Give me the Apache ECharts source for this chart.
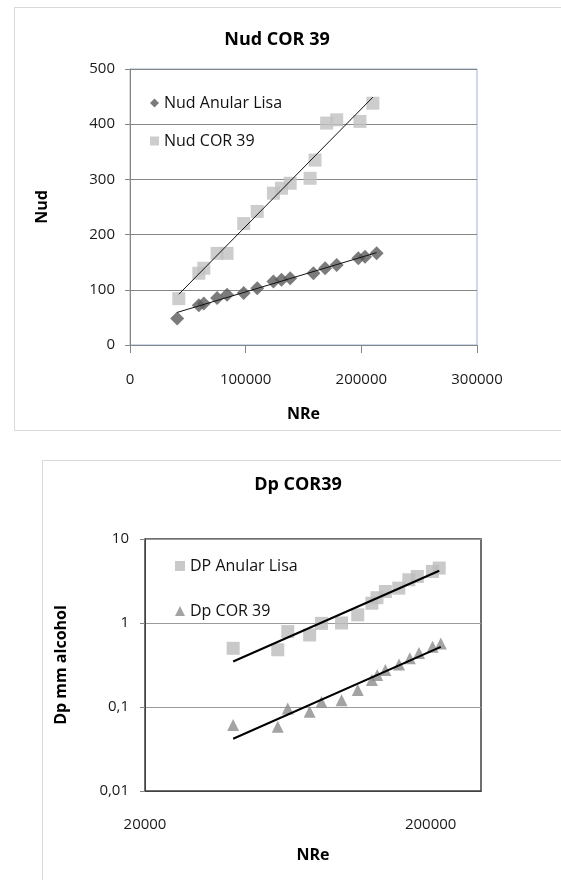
<!doctype html>
<html>
<head>
<meta charset="utf-8">
<style>
html, body { margin: 0; padding: 0; background: #fff; }
#main { width: 561px; height: 880px; }
</style>
</head>
<body>
<div id="main"></div>
<script src="https://cdn.jsdelivr.net/npm/echarts@6/dist/echarts.min.js"></script>
<script>
// top chart: Nud vs NRe
var nudLisaRe = [40800, 59500, 63800, 75300, 83900, 98300, 110000, 124000, 131000, 138500, 158600, 168700, 178700, 197400, 203200, 213200];
var nudLisa = [48, 72, 75, 85, 91, 94, 103, 115, 118, 121, 130, 139, 145, 157, 160, 166];
var nudCorRe = [42200, 59500, 63800, 75300, 83900, 98300, 110000, 124000, 131000, 138500, 155700, 160000, 170000, 178700, 198800, 210000];
var nudCor = [84, 130, 139, 166, 166, 220, 242, 275, 284, 293, 302, 335, 402, 408, 405, 438];

// bottom chart: Dp vs NRe (log-log)
var dpLisaRe = [40700, 58300, 63200, 75400, 82900, 97500, 111100, 124500, 129700, 138800, 154600, 167700, 179600, 202800, 214200];
var dpLisa = [0.50, 0.48, 0.79, 0.72, 0.99, 1.0, 1.25, 1.72, 2.0, 2.37, 2.6, 3.27, 3.58, 4.11, 4.51];
var dpCorRe = [40700, 58300, 63200, 75400, 82900, 97500, 111100, 124500, 130000, 138800, 155000, 169000, 182000, 203000, 217000];
var dpCor = [0.061, 0.058, 0.096, 0.088, 0.115, 0.12, 0.159, 0.21, 0.24, 0.275, 0.32, 0.38, 0.44, 0.52, 0.57];

var xLabelsLog = [20000, 200000];

var FONT = '"Open Sans", "Liberation Sans", sans-serif';

function pairs(xs, ys) {
    return xs.map(function (x, i) { return [x, ys[i]]; });
}

// least squares on (x, y) or (ln x, ln y), returns the line between min and max x
function fitLine(xs, ys, logFit) {
    var tx = xs.map(function (v) { return logFit ? Math.log(v) : v; });
    var ty = ys.map(function (v) { return logFit ? Math.log(v) : v; });
    var n = tx.length, sx = 0, sy = 0, sxx = 0, sxy = 0;
    for (var i = 0; i < n; i++) {
        sx += tx[i]; sy += ty[i]; sxx += tx[i] * tx[i]; sxy += tx[i] * ty[i];
    }
    var b = (n * sxy - sx * sy) / (n * sxx - sx * sx);
    var a = (sy - b * sx) / n;
    var x0 = Math.min.apply(null, xs), x1 = Math.max.apply(null, xs);
    function f(x) {
        return logFit ? Math.exp(a + b * Math.log(x)) : a + b * x;
    }
    return [[x0, f(x0)], [x1, f(x1)]];
}

function commaNum(v) {
    var s = v >= 1 ? String(Math.round(v)) : String(+v.toPrecision(1));
    return s.replace('.', ',');
}

function plainNum(v) {
    return String(Math.round(v));
}

var chart = echarts.init(document.getElementById('main'));

var axisLabelStyle = { color: '#1a1a1a', fontSize: 15, fontFamily: FONT };
var axisNameStyle = { color: '#000', fontSize: 16, fontWeight: 'bold', fontFamily: FONT };

chart.setOption({
    backgroundColor: '#fff',
    animation: false,
    graphic: [
        { type: 'rect', shape: { x: 14.5, y: 7.5, width: 560, height: 423 }, style: { fill: 'none', stroke: '#d9d9d9', lineWidth: 1 }, z: -1 },
        { type: 'rect', shape: { x: 42.5, y: 460.5, width: 540, height: 440 }, style: { fill: 'none', stroke: '#d9d9d9', lineWidth: 1 }, z: -1 }
    ],
    title: [
        { text: 'Nud COR 39', left: 272, top: 26, textAlign: 'center',
          textStyle: { fontSize: 18, fontWeight: 'bold', color: '#000', fontFamily: FONT } },
        { text: 'Dp COR39', left: 293, top: 471, textAlign: 'center',
          textStyle: { fontSize: 18, fontWeight: 'bold', color: '#000', fontFamily: FONT } }
    ],
    legend: [
        { orient: 'vertical', left: 145, top: 90, itemGap: 22, itemWidth: 9, itemHeight: 9,
          textStyle: { fontSize: 16, color: '#111', fontFamily: FONT },
          data: [{ name: 'Nud Anular Lisa', icon: 'diamond' }, { name: 'Nud COR 39', icon: 'rect' }] },
        { orient: 'vertical', left: 170, top: 553, itemGap: 29, itemWidth: 10, itemHeight: 10,
          textStyle: { fontSize: 16, color: '#111', fontFamily: FONT },
          data: [{ name: 'DP Anular Lisa', icon: 'rect' }, { name: 'Dp COR 39', icon: 'triangle' }] }
    ],
    grid: [
        { left: 130, top: 69, width: 347, height: 276, show: true, borderColor: '#95b3d7', borderWidth: 1 },
        { left: 145, top: 539, width: 336, height: 252, show: true, borderColor: '#404040', borderWidth: 1.5 }
    ],
    xAxis: [
        { gridIndex: 0, type: 'value', min: 0, max: 300000, interval: 100000,
          name: 'NRe', nameLocation: 'middle', nameGap: 61, nameTextStyle: axisNameStyle,
          axisLine: { lineStyle: { color: '#868686' } },
          axisTick: { show: true, length: 8, lineStyle: { color: '#868686' } },
          axisLabel: Object.assign({ margin: 27, formatter: plainNum }, axisLabelStyle),
          splitLine: { show: false } },
        { gridIndex: 1, type: 'log', logBase: 10, min: 20000, max: 300000,
          name: 'NRe', nameLocation: 'middle', nameGap: 56, nameTextStyle: axisNameStyle,
          axisLine: { lineStyle: { color: '#404040' } },
          axisTick: { show: false },
          axisLabel: Object.assign({ margin: 26, customValues: xLabelsLog, formatter: plainNum }, axisLabelStyle),
          splitLine: { show: false } }
    ],
    yAxis: [
        { gridIndex: 0, type: 'value', min: 0, max: 500, interval: 100,
          name: 'Nud', nameLocation: 'middle', nameGap: 80, nameTextStyle: axisNameStyle,
          axisLine: { show: true, lineStyle: { color: '#868686' } },
          axisTick: { show: true, length: 5, lineStyle: { color: '#868686' } },
          axisLabel: Object.assign({ margin: 15 }, axisLabelStyle),
          splitLine: { lineStyle: { color: '#868686' } } },
        { gridIndex: 1, type: 'log', logBase: 10, min: 0.01, max: 10,
          name: 'Dp mm alcohol', nameLocation: 'middle', nameGap: 76, nameTextStyle: axisNameStyle,
          axisLine: { show: true, lineStyle: { color: '#404040' } },
          axisTick: { show: true, length: 5, lineStyle: { color: '#868686' } },
          axisLabel: Object.assign({ margin: 16, formatter: commaNum }, axisLabelStyle),
          splitLine: { lineStyle: { color: '#9a9a9a' } } }
    ],
    series: [
        { name: 'Nud Anular Lisa', type: 'scatter', xAxisIndex: 0, yAxisIndex: 0,
          symbol: 'diamond', symbolSize: 14, itemStyle: { color: '#5a5a5a' },
          data: pairs(nudLisaRe, nudLisa) },
        { name: 'Nud COR 39', type: 'scatter', xAxisIndex: 0, yAxisIndex: 0,
          symbol: 'rect', symbolSize: 13, itemStyle: { color: '#c0c0c0' },
          data: pairs(nudCorRe, nudCor) },
        { name: 'fitLisa', type: 'line', xAxisIndex: 0, yAxisIndex: 0, silent: true,
          symbol: 'none', lineStyle: { color: '#111', width: 1 }, z: 3,
          data: fitLine(nudLisaRe, nudLisa, false) },
        { name: 'fitCor', type: 'line', xAxisIndex: 0, yAxisIndex: 0, silent: true,
          symbol: 'none', lineStyle: { color: '#111', width: 1 }, z: 3,
          data: fitLine(nudCorRe, nudCor, false) },

        { name: 'DP Anular Lisa', type: 'scatter', xAxisIndex: 1, yAxisIndex: 1,
          symbol: 'rect', symbolSize: 13, itemStyle: { color: '#bcbcbc' },
          data: pairs(dpLisaRe, dpLisa) },
        { name: 'Dp COR 39', type: 'scatter', xAxisIndex: 1, yAxisIndex: 1,
          symbol: 'triangle', symbolSize: 12, itemStyle: { color: '#8c8c8c' },
          data: pairs(dpCorRe, dpCor) },
        { name: 'fitDpLisa', type: 'line', xAxisIndex: 1, yAxisIndex: 1, silent: true,
          symbol: 'none', lineStyle: { color: '#000', width: 2 }, z: 3,
          data: fitLine(dpLisaRe, dpLisa, true) },
        { name: 'fitDpCor', type: 'line', xAxisIndex: 1, yAxisIndex: 1, silent: true,
          symbol: 'none', lineStyle: { color: '#000', width: 2 }, z: 3,
          data: fitLine(dpCorRe, dpCor, true) }
    ]
});

window.addEventListener('resize', function () {
    chart.resize();
});
</script>
</body>
</html>
